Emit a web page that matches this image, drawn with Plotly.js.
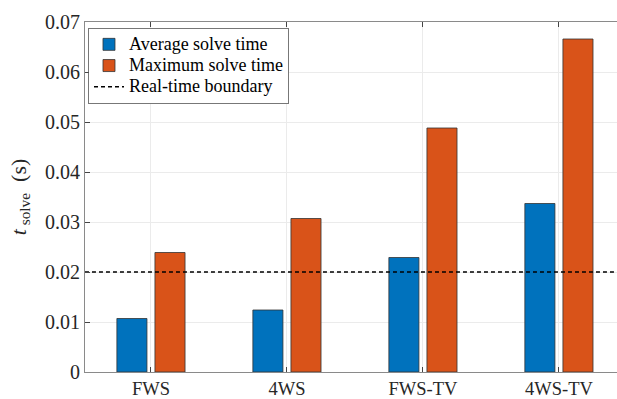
<!DOCTYPE html>
<html>
<head>
<meta charset="utf-8">
<script src="https://cdn.plot.ly/plotly-3.0.1.min.js"></script>
<style>html,body{margin:0;padding:0;background:#fff;}#chart{width:617px;height:399px;}</style>
</head>
<body>
<div id="chart"></div>
<script>
const categories = ["FWS", "4WS", "FWS-TV", "4WS-TV"];
const avgSolveTime = [0.0107, 0.0124, 0.0229, 0.0337];
const maxSolveTime = [0.0239, 0.0307, 0.0488, 0.0666];
const realTimeBoundary = 0.02;
const seriesNames = ["Average solve time", "Maximum solve time", "Real-time boundary"];
const yTicks = [0, 0.01, 0.02, 0.03, 0.04, 0.05, 0.06, 0.07];

const xPos = categories.map((c, i) => i + 1);
const font = "Liberation Serif";
const legendName = s => '<span style="font-size:18px">' + s + '</span>';

const traces = [
  {
    type: "bar", name: legendName(seriesNames[0]), x: xPos, y: avgSolveTime,
    marker: { color: "#0072BD", line: { color: "#333333", width: 0.8 } }
  },
  {
    type: "bar", name: legendName(seriesNames[1]), x: xPos, y: maxSolveTime,
    marker: { color: "#D95319", line: { color: "#333333", width: 0.8 } }
  },
  {
    type: "scatter", mode: "lines", name: legendName(seriesNames[2]),
    x: [0, categories.length + 1], y: [realTimeBoundary, realTimeBoundary],
    line: { color: "#000000", width: 1.3, dash: "4px,3px" }
  }
];

const layout = {
  width: 617, height: 399,
  margin: { l: 85, r: 0, t: 22, b: 27 },
  paper_bgcolor: "#ffffff", plot_bgcolor: "#ffffff",
  font: { family: font, size: 20, color: "#262626" },
  barmode: "group", bargap: 0.44, bargroupgap: 0.21,
  showlegend: true,
  legend: {
    x: 0.006, y: 0.983, xanchor: "left", yanchor: "top",
    bgcolor: "#ffffff", bordercolor: "#555555", borderwidth: 0.8,
    font: { family: font, size: 14, color: "#000000" },
    tracegroupgap: 0, itemwidth: 30
  },
  xaxis: {
    range: [0.515, 4.427],
    tickvals: xPos, ticktext: categories,
    showgrid: true, gridcolor: "#ebebeb", gridwidth: 1,
    showline: true, linecolor: "#8a8a8a", linewidth: 1, mirror: "ticks",
    ticks: "inside", ticklen: 5, tickcolor: "#444444",
    zeroline: false, tickfont: { family: font, size: 18.5, color: "#262626" }
  },
  yaxis: {
    range: [0, 0.07],
    tickvals: yTicks, ticktext: yTicks.map(v => v === 0 ? "0" : v.toFixed(2)),
    showgrid: true, gridcolor: "#ebebeb", gridwidth: 1,
    showline: true, linecolor: "#8a8a8a", linewidth: 1, mirror: false,
    ticks: "inside", ticklen: 5, tickcolor: "#444444",
    zeroline: false, tickfont: { family: font, size: 20, color: "#262626" },
    title: { text: "<i>t</i><sub>&nbsp;solve</sub>&nbsp;&nbsp;(s)", font: { family: font, size: 22, color: "#262626" }, standoff: 12 }
  }
};

Plotly.newPlot("chart", traces, layout, { staticPlot: true, displayModeBar: false });
</script>
</body>
</html>
